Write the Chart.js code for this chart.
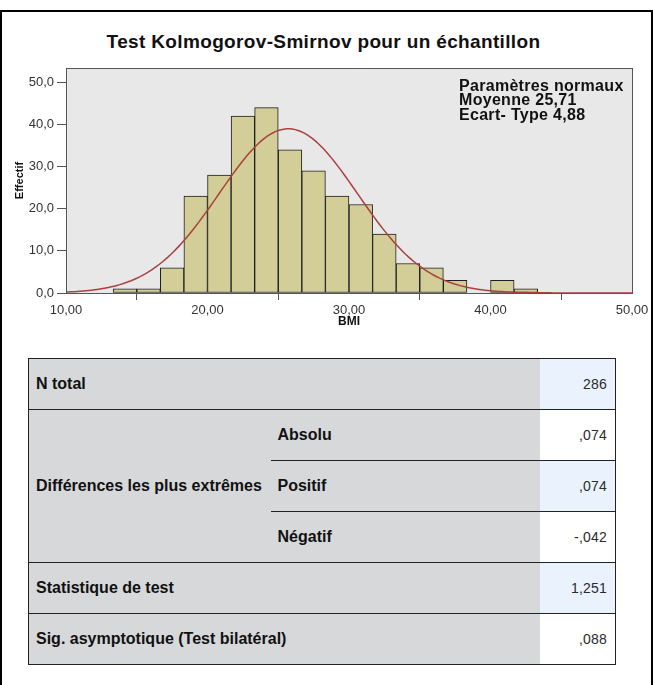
<!DOCTYPE html>
<html>
<head>
<meta charset="utf-8">
<script src="https://cdn.jsdelivr.net/npm/chart.js@4/dist/chart.umd.min.js"></script>
<style>
  html, body { margin: 0; padding: 0; background: #fff; }
  body { width: 653px; height: 685px; overflow: hidden; position: relative;
         font-family: "Liberation Sans", Arial, sans-serif; }
  #frame { position: absolute; left: 0; top: 10px; width: 649px; height: 700px;
           border: 2px solid #000; border-bottom: none; }
  #title { position: absolute; left: 0; top: 31px; width: 647px; text-align: center;
           font: bold 19px "Liberation Sans", Arial, sans-serif; letter-spacing: 0.35px;
           color: #111; line-height: 21px; white-space: nowrap; }
  #chartBox { position: absolute; left: 0; top: 0; width: 653px; height: 340px; }
  #ks { position: absolute; left: 28px; top: 358px; width: 587px;
        border-collapse: collapse; border: 1px solid #222; table-layout: fixed; }
  #ks td { height: 50px; padding: 0; font-size: 16px; white-space: nowrap; }
  #ks td.lab { background: #d7d8da; color: #111; font-weight: bold;
               padding-left: 7px; text-align: left; }
  #ks td.val { color: #2b2b2b; text-align: right; padding-right: 8px; font-size: 14px;
               letter-spacing: 0.2px; }
  #ks td.blue { background: #eaf3fd; }
  #ks td.white { background: #ffffff; }
  #ks tr.main td { border-top: 1px solid #222; }
  #ks td.subline { border-top: 1px solid #222; }
</style>
</head>
<body>
<div id="frame"></div>
<div id="title">Test Kolmogorov-Smirnov pour un échantillon</div>
<div id="chartBox"><canvas id="hist" width="653" height="340"></canvas></div>
<table id="ks">
  <colgroup><col style="width:242px"><col style="width:269px"><col style="width:76px"></colgroup>
  <tbody id="ksBody"></tbody>
</table>
<script>
// BMI histogram: bin edges (width 5/3) and frequencies per bin
const binEdges = [13.33, 15.00, 16.67, 18.33, 20.00, 21.67, 23.33, 25.00, 26.67, 28.33,
                  30.00, 31.67, 33.33, 35.00, 36.67, 38.33, 40.00, 41.67, 43.33];
const binCounts = [1, 1, 6, 23, 28, 42, 44, 34, 29, 23, 21, 14, 7, 6, 3, 0, 3, 1];

// Fitted normal parameters
const sampleSize = 286;
const normalMean = 25.71;
const normalSd = 4.88;

// Axis ticks
const xTicks = [10, 20, 30, 40, 50];
const yTicks = [0, 10, 20, 30, 40, 50];

// Kolmogorov-Smirnov summary table
const ksGroupLabels = ['N total', 'Différences les plus extrêmes', 'Statistique de test',
                       'Sig. asymptotique (Test bilatéral)'];
const ksSubLabels = ['Absolu', 'Positif', 'Négatif'];
const ksValues = ['286', ',074', ',074', '-,042', '1,251', ',088'];

const frNum = (v, d) => v.toFixed(d).replace('.', ',');

// Histogram bars positioned at bin centres
const bars = binCounts.map((c, i) => ({ x: (binEdges[i] + binEdges[i + 1]) / 2, y: c }));

// Normal density scaled to counts per bin
const binWidth = (binEdges[binEdges.length - 1] - binEdges[0]) / binCounts.length;
function normalCurve(from, to, step) {
  const pts = [];
  for (let x = from; x <= to + 1e-9; x += step) {
    const z = (x - normalMean) / normalSd;
    const y = sampleSize * binWidth * Math.exp(-0.5 * z * z) / (normalSd * Math.sqrt(2 * Math.PI));
    pts.push({ x: +x.toFixed(3), y });
  }
  return pts;
}
const curve = normalCurve(xTicks[0], xTicks[xTicks.length - 1], 0.2);

const plotFrame = {
  id: 'plotFrame',
  beforeDatasetsDraw(chart) {
    const { ctx, chartArea: a } = chart;
    ctx.save();
    ctx.fillStyle = '#e8e8e8';
    ctx.fillRect(a.left, a.top, a.right - a.left, a.bottom - a.top);
    ctx.restore();
  },
  afterDraw(chart) {
    const { ctx, chartArea: a } = chart;
    ctx.save();
    ctx.strokeStyle = '#555';
    ctx.lineWidth = 1;
    ctx.strokeRect(Math.round(a.left) + 0.5, Math.round(a.top) + 0.5,
                   Math.round(a.right - a.left), Math.round(a.bottom - a.top));
    // normal parameters note
    const lines = ['Paramètres normaux', 'Moyenne ' + frNum(normalMean, 2),
                   'Ecart- Type ' + frNum(normalSd, 2)];
    ctx.fillStyle = '#111';
    ctx.font = 'bold 16px "Liberation Sans", Arial, sans-serif';
    if ('letterSpacing' in ctx) ctx.letterSpacing = '0.3px';
    ctx.textBaseline = 'alphabetic';
    ctx.textAlign = 'left';
    lines.forEach((t, i) => ctx.fillText(t, a.right - 173, a.top + 23 + i * 14.3));
    ctx.restore();
  }
};

const tickFont = { family: '"Liberation Sans", Arial, sans-serif', size: 13 };

new Chart(document.getElementById('hist'), {
  type: 'bar',
  data: {
    datasets: [
      {
        type: 'line',
        data: curve,
        borderColor: '#a9413f',
        borderWidth: 1.5,
        pointRadius: 0,
        tension: 0,
        fill: false
      },
      {
        type: 'bar',
        data: bars,
        backgroundColor: '#d3ce97',
        borderColor: '#1e1e1e',
        borderWidth: 1,
        borderSkipped: false,
        barPercentage: 1,
        categoryPercentage: 1
      }
    ]
  },
  options: {
    responsive: false,
    animation: false,
    devicePixelRatio: 1,
    layout: { padding: { top: 68, right: 21, left: 0, bottom: 0 } },
    plugins: { legend: { display: false }, tooltip: { enabled: false }, title: { display: false } },
    scales: {
      x: {
        type: 'linear',
        offset: false,
        min: xTicks[0],
        max: xTicks[xTicks.length - 1],
        afterBuildTicks: s => { s.ticks = xTicks.map(v => ({ value: v })); },
        afterFit: s => { s.height = 47; },
        ticks: { callback: v => frNum(v, 2), font: tickFont, color: '#333', padding: 3,
                 maxRotation: 0, autoSkip: false },
        grid: { drawOnChartArea: false, drawTicks: true, tickLength: 7, color: '#555' },
        border: { display: true, color: '#555' },
        title: { display: true, text: 'BMI', color: '#111',
                 font: { family: '"Liberation Sans", Arial, sans-serif', size: 12, weight: 'bold' },
                 padding: { top: 0, bottom: 11 } }
      },
      y: {
        type: 'linear',
        min: 0,
        max: 53.4,
        afterBuildTicks: s => { s.ticks = yTicks.map(v => ({ value: v })); },
        afterFit: s => { s.width = 66; },
        ticks: { callback: v => frNum(v, 1), font: tickFont, color: '#333', padding: 3,
                 autoSkip: false },
        grid: { drawOnChartArea: false, drawTicks: true, tickLength: 9, color: '#555' },
        border: { display: true, color: '#555' },
        title: { display: true, text: 'Effectif', color: '#111',
                 font: { family: '"Liberation Sans", Arial, sans-serif', size: 11, weight: 'bold' },
                 padding: { top: 13, bottom: 0 } }
      }
    }
  },
  plugins: [plotFrame]
});

// Build the summary table
(function buildTable() {
  const body = document.getElementById('ksBody');
  const shades = ['blue', 'white', 'blue', 'white', 'blue', 'white'];
  const rows = [];
  rows.push(`<tr class="main"><td class="lab" colspan="2">${ksGroupLabels[0]}</td>` +
            `<td class="val ${shades[0]}">${ksValues[0]}</td></tr>`);
  ksSubLabels.forEach((sub, i) => {
    const first = i === 0;
    let r = `<tr${first ? ' class="main"' : ''}>`;
    if (first) r += `<td class="lab" rowspan="3">${ksGroupLabels[1]}</td>`;
    const line = first ? '' : ' subline';
    r += `<td class="lab${line}">${sub}</td><td class="val ${shades[i + 1]}${line}">${ksValues[i + 1]}</td></tr>`;
    rows.push(r);
  });
  rows.push(`<tr class="main"><td class="lab" colspan="2">${ksGroupLabels[2]}</td>` +
            `<td class="val ${shades[4]}">${ksValues[4]}</td></tr>`);
  rows.push(`<tr class="main"><td class="lab" colspan="2">${ksGroupLabels[3]}</td>` +
            `<td class="val ${shades[5]}">${ksValues[5]}</td></tr>`);
  body.innerHTML = rows.join('');
})();
</script>
</body>
</html>
